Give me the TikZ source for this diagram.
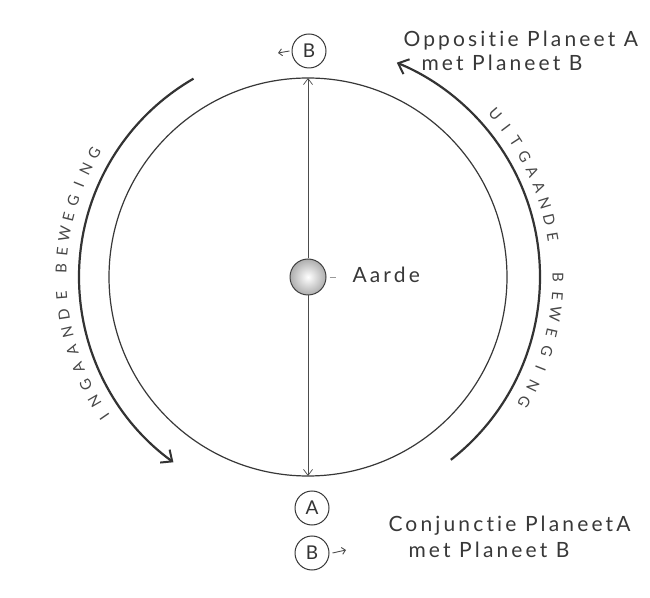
\documentclass[tikz,border=0pt]{standalone}
\usepackage{fontspec}
\setmainfont{Lato}
\newfontfamily\hand[LetterSpace=15,Ligatures={NoCommon}]{Lato}
\usetikzlibrary{arrows.meta,calc}
\begin{document}
\begin{tikzpicture}[x=1pt,y=1pt,
  pencil/.style={draw=black!78, line width=1.2pt},
  thin pencil/.style={draw=black!70, line width=0.7pt},
  motion/.style={draw=black!80, line width=2.2pt,
    -{Straight Barb[length=9pt,width=16pt,line width=2pt]}},
  planet/.style={circle, draw=black!78, line width=1pt, minimum size=34pt,
    inner sep=0pt, text=black!80, font=\hand\fontsize{19}{19}\selectfont},
  label/.style={anchor=base west, text=black!78, font=\hand\fontsize{21}{21}\selectfont},
  arcletter/.style={text=black!72, font=\hand\fontsize{15}{15}\selectfont, inner sep=0pt},
  small arrow/.style={thin pencil, line width=0.9pt, -{Straight Barb[length=3.5pt,width=7pt]}}
]
\useasboundingbox (0,0) rectangle (650,597);
\fill[white] (0,0) rectangle (650,597);

% main orbit
\coordinate (C) at (308,320);
\draw[pencil] (C) circle[radius=199];
\coordinate (top) at (308,519);
\coordinate (bot) at (308,121);

% Earth
\node[circle, draw=black!75, line width=1pt, minimum size=36pt, inner sep=0pt,
      inner color=white, outer color=black!32] (earth) at (C) {};
\draw[thin pencil, -{Straight Barb[length=6pt,width=9pt]}] (earth.north) -- (top);
\draw[thin pencil, -{Straight Barb[length=6pt,width=9pt]}] (earth.south) -- (bot);
\node[label, anchor=base west] (aarde) at (349,314) {Aarde};
\draw[thin pencil, draw=black!40] (earth.east) ++(3,0) coordinate (dashL) -- ++(6,0) coordinate (dashR);

% planets
\node[planet] (bTop) at (309,546) {B};
\coordinate (bTopArrow) at (278,544);
\draw[small arrow] (bTop.west) ++(-2,0) -- (bTopArrow);
\node[planet] (aBot) at (312,89) {A};
\node[planet] (bBot) at (312,44) {B};
\coordinate (bBotArrow) at (346,47);
\draw[small arrow] (bBot.east) ++(3,0) -- (bBotArrow);

% texts
\node[label] (opp1) at (400,550) {Oppositie Planeet A};
\node[label] (opp2) at (418,526) {met Planeet B};
\node[label] (conj1) at (385,66) {Conjunctie PlaneetA};
\node[label] (conj2) at (405,40) {met Planeet B};

% motion arcs
\draw[motion] ($(C)+(120:229)$) arc[start angle=120, end angle=234, radius=229];
\draw[motion] ($(C)+(-52:232)$) arc[start angle=-52, end angle=67.5, radius=232];

% curved lettering
\foreach \ch [count=\i] in {I,N,G,A,A,N,D,E}{
  \pgfmathsetmacro\ang{214.5-4.3*(\i-1)}
  \node[arcletter, rotate=\ang-90] at ($(C)+(\ang:247)$) {\ch};
}
\foreach \ch [count=\i] in {B,E,W,E,G,I,N,G}{
  \pgfmathsetmacro\ang{178-4*(\i-1)}
  \node[arcletter, rotate=\ang-90] at ($(C)+(\ang:247)$) {\ch};
}
\foreach \ch [count=\i] in {U,I,T,G,A,A,N,D,E}{
  \pgfmathsetmacro\ang{41-3.95*(\i-1)}
  \node[arcletter, rotate=\ang-90] at ($(C)+(\ang:248)$) {\ch};
}
\foreach \ch [count=\i] in {B,E,W,E,G,I,N,G}{
  \pgfmathsetmacro\ang{0-4.3*(\i-1)}
  \node[arcletter, rotate=\ang-90] at ($(C)+(\ang:250)$) {\ch};
}
\end{tikzpicture}
\end{document}
